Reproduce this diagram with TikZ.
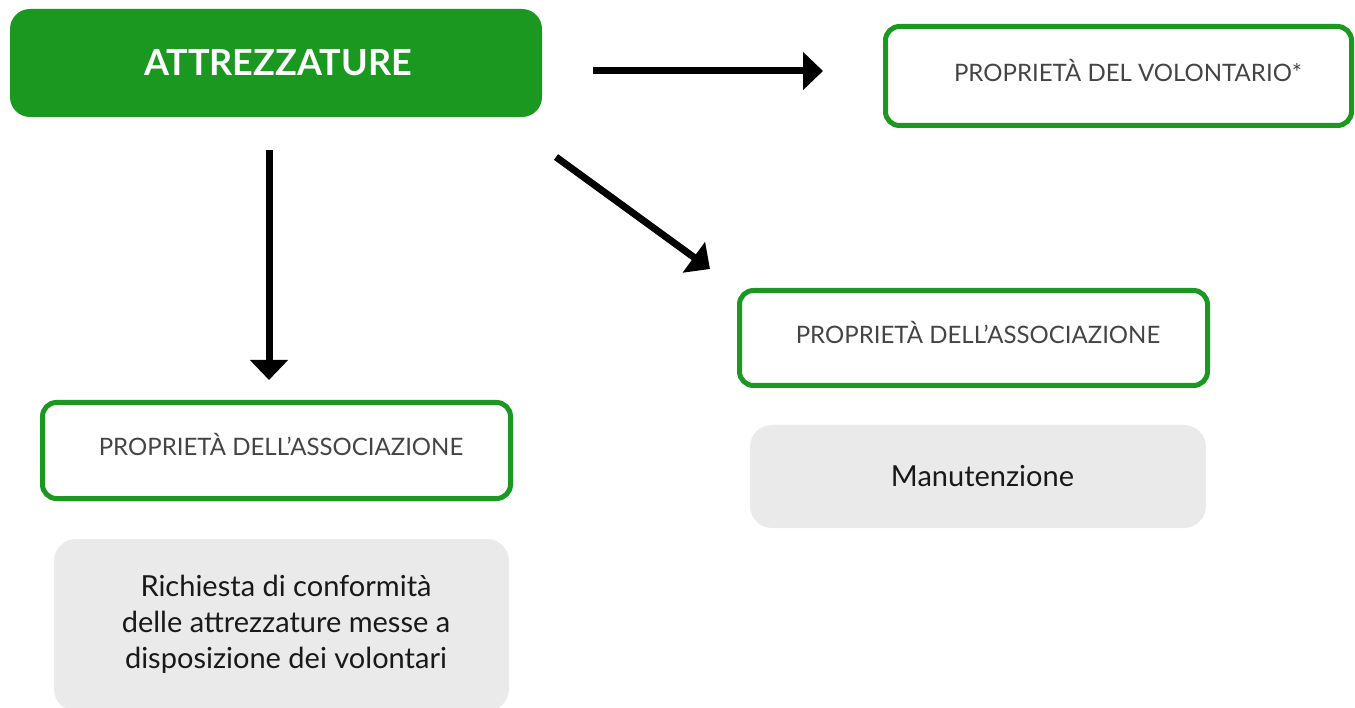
\documentclass[tikz,border=0pt]{standalone}
\usepackage{fontspec}
\setmainfont{Lato}
\usetikzlibrary{arrows.meta}
\definecolor{attgreen}{RGB}{26,152,32}
\definecolor{attgray}{RGB}{234,234,234}
\definecolor{atttext}{RGB}{68,68,68}
\newcommand\notelines[1]{\begin{tabular}{@{\hspace{9pt}}c@{}}#1\end{tabular}}
\begin{document}
\begin{tikzpicture}[x=1pt, y=-1pt,
    >={Triangle[length=20pt, width=37pt]},
    headbox/.style={fill=attgreen, rounded corners=20pt, minimum width=532pt, minimum height=108pt,
      inner sep=0pt, outer sep=0pt, text=white, font=\fontsize{36}{42}\selectfont\bfseries,
      execute at begin node=\hspace*{4pt}},
    ownbox/.style={draw=attgreen, line width=5pt, rounded corners=14pt, minimum width=468pt,
      minimum height=96pt, inner sep=0pt, outer sep=0pt, text height=17pt, text depth=6pt,
      text=atttext, font=\fontsize{24}{28}\selectfont, execute at begin node=\hspace*{9pt}},
    notebox/.style={fill=attgray, rounded corners=22pt, minimum width=456pt, inner sep=0pt,
      outer sep=0pt, text=black!90, font=\fontsize{29}{36}\selectfont},
    link/.style={->, line width=7pt}]
  \useasboundingbox (0, 0) rectangle (1355, 708);

  \node[headbox] (att) at (276, 63) {ATTREZZATURE};
  \node[ownbox, minimum width=466pt, minimum height=99pt, execute at begin node=\hspace*{10pt}] (vol)
    at (1118.5, 76) {PROPRIET\`A DEL VOLONTARIO*};
  \node[ownbox, minimum height=95pt] (assR) at (973.5, 338) {PROPRIET\`A DELL’ASSOCIAZIONE};
  \node[ownbox] (assL) at (276.5, 450.5) {PROPRIET\`A DELL’ASSOCIAZIONE};
  \node[notebox, minimum height=103pt, execute at begin node=\hspace*{9pt}] (man) at (978, 476.5) {Manutenzione};
  \node[notebox, minimum width=455pt, minimum height=172pt] (req) at (281.5, 625)
    {\notelines{Richiesta di conformit\`a\\delle attrezzature messe a\\disposizione dei volontari}};

  \coordinate (aE) at (593, 71);
  \coordinate (vW) at (823, 71);
  \coordinate (aS) at (269, 150);
  \coordinate (lN) at (269, 380);
  \coordinate (aSE) at (556, 157);
  \coordinate (rN) at (710, 269);
  \draw[link] (aE) -- (vW);
  \draw[link] (aS) -- (lN);
  \draw[link] (aSE) -- (rN);
\end{tikzpicture}
\end{document}
